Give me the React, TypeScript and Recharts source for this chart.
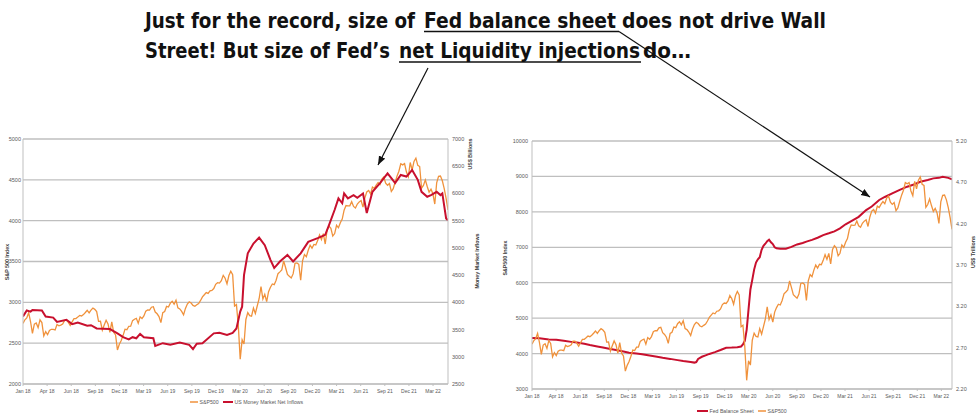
import { LineChart, Line, XAxis, YAxis, CartesianGrid } from 'recharts';

// x axis labels (one every quarter of weekly data)
const quarterLabels = ['Jan 18', 'Apr 18', 'Jun 18', 'Sep 18', 'Dec 18', 'Mar 19', 'Jun 19', 'Sep 19', 'Dec 19', 'Mar 20', 'Jun 20', 'Sep 20', 'Dec 20', 'Mar 21', 'Jun 21', 'Sep 21', 'Dec 21', 'Mar 22'];

// S&P500 weekly close, week 0 = first week of Jan 2018
const spx = [
  2743, 2786, 2810, 2873, 2762, 2620, 2732, 2747, 2691, 2786, 2752, 2588, 2641, 2604, 2656, 2670, 2670, 2663, 2728, 2713,
  2721, 2735, 2779, 2780, 2755, 2718, 2760, 2801, 2802, 2819, 2840, 2833, 2850, 2875, 2902, 2872, 2905, 2930, 2914, 2886,
  2767, 2768, 2659, 2723, 2781, 2736, 2633, 2760, 2633, 2600, 2417, 2486,
  2532, 2596, 2671, 2665, 2707, 2708, 2776, 2793, 2804, 2743, 2822, 2801, 2834, 2893, 2907, 2905, 2940, 2946, 2881, 2860,
  2826, 2752, 2873, 2887, 2950, 2942, 2990, 3014, 2977, 3026, 2932, 2919, 2889, 2847, 2926, 2979, 3007, 2992, 2962, 2952,
  2970, 2986, 3023, 3067, 3093, 3120, 3110, 3141, 3146, 3169, 3221, 3240,
  3235, 3265, 3330, 3295, 3226, 3328, 3380, 3338, 2954, 2972, 2711, 2305, 2541, 2489, 2790, 2875, 2837, 2831, 2930, 2864,
  2955, 3044, 3194, 3041, 3098, 3009, 3130, 3185, 3225, 3216, 3271, 3351, 3373, 3397, 3508, 3427, 3341, 3319, 3298, 3348,
  3477, 3483, 3465, 3270, 3509, 3585, 3558, 3638, 3699, 3663, 3709, 3703, 3756,
  3825, 3768, 3841, 3714, 3887, 3934, 3907, 3811, 3842, 3943, 3913, 3975, 4020, 4129, 4185, 4180, 4181, 4233, 4174, 4156,
  4204, 4230, 4247, 4166, 4281, 4352, 4370, 4327, 4412, 4395, 4437, 4468, 4442, 4509, 4535, 4459, 4433, 4455, 4357, 4391,
  4471, 4545, 4605, 4697, 4683, 4698, 4595, 4538, 4712, 4620, 4726, 4766,
  4677, 4663, 4398, 4432, 4500, 4419, 4349, 4385, 4329, 4204, 4463, 4543, 4546, 4488, 4393, 4272, 4132,
];

// US money market net inflows (US$ bn), read at these weeks
const mmWeeks = [0, 2, 4, 5, 10, 12, 16, 18, 23, 26, 29, 34, 36, 39, 46, 50, 53, 56, 58, 60, 62, 64, 69, 70, 74, 78, 83, 88, 90, 92, 95, 101, 104, 108, 111, 113, 115, 116, 117, 119, 122, 125, 128, 131, 133, 136, 140, 143, 147, 151, 156, 160, 162, 165, 167, 169, 170, 172, 175, 177, 180, 182, 185, 189, 193, 195, 197, 200, 203, 206, 209, 211, 214, 216, 219, 221, 222, 224, 225];
const mmValues = [3740, 3850, 3830, 3860, 3850, 3740, 3720, 3640, 3680, 3600, 3630, 3570, 3580, 3520, 3510, 3430, 3360, 3320, 3360, 3340, 3420, 3360, 3340, 3200, 3250, 3220, 3260, 3220, 3140, 3240, 3250, 3430, 3440, 3400, 3440, 3520, 3830, 3920, 4500, 4900, 5080, 5190, 5050, 4780, 4630, 4750, 4870, 4750, 4900, 5110, 5180, 5240, 5420, 5700, 5910, 5820, 6000, 5910, 5970, 5920, 6000, 5640, 6030, 6190, 6370, 6280, 6190, 6340, 6310, 6430, 6250, 6030, 5940, 5970, 6030, 5970, 6000, 5540, 5510];

// Fed balance sheet (US$ bn), read at these weeks
const fedWeeks = [0, 4, 9, 13, 17, 21, 24, 28, 31, 35, 38, 42, 45, 49, 52, 56, 59, 63, 67, 70, 74, 78, 81, 85, 87, 88, 89, 91, 93, 95, 98, 101, 104, 107, 110, 112, 113, 114, 115, 116, 117, 118, 119, 120, 121, 122, 123, 124, 125, 126, 127, 128, 129, 130, 131, 133, 136, 139, 142, 145, 147, 150, 153, 156, 159, 162, 165, 168, 172, 175, 179, 182, 186, 189, 193, 197, 201, 205, 208, 212, 215, 218, 220, 223, 225];
const fedValues = [4440, 4430, 4400, 4390, 4360, 4330, 4310, 4275, 4240, 4200, 4170, 4130, 4100, 4060, 4025, 4000, 3980, 3945, 3910, 3880, 3850, 3815, 3790, 3765, 3745, 3760, 3850, 3910, 3950, 3990, 4040, 4100, 4165, 4170, 4180, 4200, 4260, 4360, 4670, 5250, 5810, 6080, 6370, 6570, 6660, 6720, 6930, 7040, 7100, 7170, 7215, 7140, 7090, 7000, 6970, 6960, 6960, 7010, 7080, 7120, 7160, 7210, 7270, 7345, 7395, 7450, 7535, 7650, 7770, 7860, 8050, 8150, 8335, 8420, 8520, 8620, 8710, 8780, 8850, 8900, 8945, 8960, 8990, 8960, 8920];

const spxLeftTicks = [2000, 2500, 3000, 3500, 4000, 4500, 5000];
const mmTicks = [2500, 3000, 3500, 4000, 4500, 5000, 5500, 6000, 6500, 7000];
const fedTicks = [3000, 4000, 5000, 6000, 7000, 8000, 9000, 10000];
const spxRightTicks = [2200, 2700, 3200, 3700, 4200, 4700, 5200];

const ORANGE = '#F0923C';
const RED = '#C8102E';
const GRID = '#BFBFBF';
const LABEL = '#595959';
const FONT = "'Liberation Sans', Arial, sans-serif";

const spxData = spx.map((v, w) => ({ w, v }));
const mmData = mmWeeks.map((w, i) => ({ w, v: mmValues[i] }));
const fedData = fedWeeks.map((w, i) => ({ w, v: fedValues[i] }));

const tickStyle = { fontSize: 5.5, fill: LABEL, fontFamily: FONT };

const quarterAxis = (step: number, height: number) => (
  <XAxis
    dataKey="w"
    type="number"
    domain={[0, 225]}
    allowDataOverflow
    ticks={quarterLabels.map((_, k) => k * step)}
    tickFormatter={(v: number) => quarterLabels[Math.round(v / step)] ?? ''}
    interval={0}
    height={height}
    tick={{ ...tickStyle, fontSize: 5 }}
    tickSize={2}
    tickMargin={3}
    stroke={GRID}
  />
);

const LeftChart = () => (
  <LineChart width={490} height={420} margin={{ top: 139, right: 0, bottom: 0, left: 0 }}>
    <CartesianGrid vertical={false} stroke={GRID} strokeWidth={1.3} yAxisId="spx" />
    {quarterAxis(12.77, 36)}
    <YAxis yAxisId="spx" domain={[2000, 5000]} ticks={spxLeftTicks} width={23} tickSize={0} tickMargin={2} tick={tickStyle} stroke={GRID} />
    <YAxis yAxisId="mm" orientation="right" domain={[2500, 7000]} ticks={mmTicks} width={42} tickSize={0} tickMargin={4} tick={tickStyle} stroke={GRID} />
    <Line yAxisId="spx" data={spxData} dataKey="v" stroke={ORANGE} strokeWidth={1.3} dot={false} activeDot={false} isAnimationActive={false} />
    <Line yAxisId="mm" data={mmData} dataKey="v" stroke={RED} strokeWidth={2} dot={false} activeDot={false} isAnimationActive={false} />
  </LineChart>
);

const RightChart = () => (
  <LineChart width={486} height={420} margin={{ top: 141, right: 0, bottom: 0, left: 0 }}>
    <CartesianGrid vertical={false} stroke={GRID} strokeWidth={1.3} yAxisId="fed" />
    {quarterAxis(12.9, 31)}
    <YAxis yAxisId="fed" domain={[3000, 10000]} ticks={fedTicks} width={42} tickSize={0} tickMargin={4} tick={tickStyle} stroke={GRID} />
    <YAxis yAxisId="spx" orientation="right" domain={[2200, 5200]} ticks={spxRightTicks} width={24} tickSize={0} tickMargin={4} tick={tickStyle} stroke={GRID} tickFormatter={(v: number) => (v / 1000).toFixed(2)} />
    <Line yAxisId="fed" data={fedData} dataKey="v" stroke={RED} strokeWidth={2} dot={false} activeDot={false} isAnimationActive={false} />
    <Line yAxisId="spx" data={spxData} dataKey="v" stroke={ORANGE} strokeWidth={1.3} dot={false} activeDot={false} isAnimationActive={false} />
  </LineChart>
);

const titleFont = "'Liberation Sans Narrow', 'DejaVu Sans Condensed', 'Liberation Sans', sans-serif";

const Seg = ({ x, y, w, children }: { x: number; y: number; w: number; children: string }) => (
  <text x={x} y={y} textLength={w} lengthAdjust="spacingAndGlyphs" fontFamily={titleFont} fontWeight="bold" fontSize={21} fill="#111">
    {children}
  </text>
);

const VTitle = ({ x, y, children }: { x: number; y: number; children: string }) => (
  <text x={x} y={y} transform={`rotate(-90, ${x}, ${y})`} textAnchor="middle" dominantBaseline="central" fontFamily={FONT} fontWeight="bold" fontSize={5.3} fill="#404040">
    {children}
  </text>
);

const LegendItem = ({ x, y, color, width, label }: { x: number; y: number; color: string; width: number; label: string }) => (
  <g>
    <line x1={x} y1={y} x2={x + width} y2={y} stroke={color} strokeWidth={color === RED ? 2 : 1.5} />
    <text x={x + width + 1.5} y={y} dominantBaseline="central" fontFamily={FONT} fontSize={5.2} fill={LABEL}>
      {label}
    </text>
  </g>
);

const Overlay = () => (
  <svg width={976} height={420} style={{ position: 'absolute', left: 0, top: 0, pointerEvents: 'none' }}>
    <defs>
      <marker id="head" markerWidth={10} markerHeight={8} refX={9} refY={3.5} orient="auto" markerUnits="userSpaceOnUse">
        <path d="M0,0 L9,3.5 L0,7 z" fill="#111" />
      </marker>
    </defs>
    <Seg x={145} y={28} w={270}>Just for the record, size of</Seg>
    <Seg x={424} y={28} w={192}>Fed balance sheet</Seg>
    <Seg x={622} y={28} w={204}>does not drive Wall</Seg>
    <Seg x={145} y={58} w={245}>Street! But size of Fed’s</Seg>
    <Seg x={399} y={58} w={241}>net Liquidity injections</Seg>
    <Seg x={643} y={58} w={48}>do…</Seg>
    <line x1={424} y1={31.5} x2={619} y2={31.5} stroke="#111" strokeWidth={1.4} />
    <line x1={399} y1={62} x2={641} y2={62} stroke="#111" strokeWidth={1.4} />
    <line x1={428} y1={68} x2={378} y2={165} stroke="#111" strokeWidth={1.2} markerEnd="url(#head)" />
    <line x1={619} y1={31.5} x2={870} y2={197} stroke="#111" strokeWidth={1.2} markerEnd="url(#head)" />

    <VTitle x={7} y={262}>S&amp;P 500 Index</VTitle>
    <VTitle x={470} y={154}>US$ Billions</VTitle>
    <VTitle x={477} y={261}>Money Market Inflows</VTitle>
    <VTitle x={505} y={258}>S&amp;P500 Index</VTitle>
    <VTitle x={973} y={252}>US$ Trillions</VTitle>

    <LegendItem x={190} y={402} color={ORANGE} width={8} label="S&P500" />
    <LegendItem x={223} y={402} color={RED} width={10} label="US Money Market Net Inflows" />
    <LegendItem x={697} y={411} color={RED} width={11} label="Fed Balance Sheet" />
    <LegendItem x={758} y={411} color={ORANGE} width={8} label="S&P500" />
  </svg>
);

export default function App() {
  return (
    <div style={{ position: 'absolute', left: 0, top: 0, width: 976, height: 420, background: '#fff', overflow: 'hidden' }}>
      <div style={{ position: 'absolute', left: 0, top: 0 }}>
        <LeftChart />
      </div>
      <div style={{ position: 'absolute', left: 490, top: 0 }}>
        <RightChart />
      </div>
      <Overlay />
    </div>
  );
}
